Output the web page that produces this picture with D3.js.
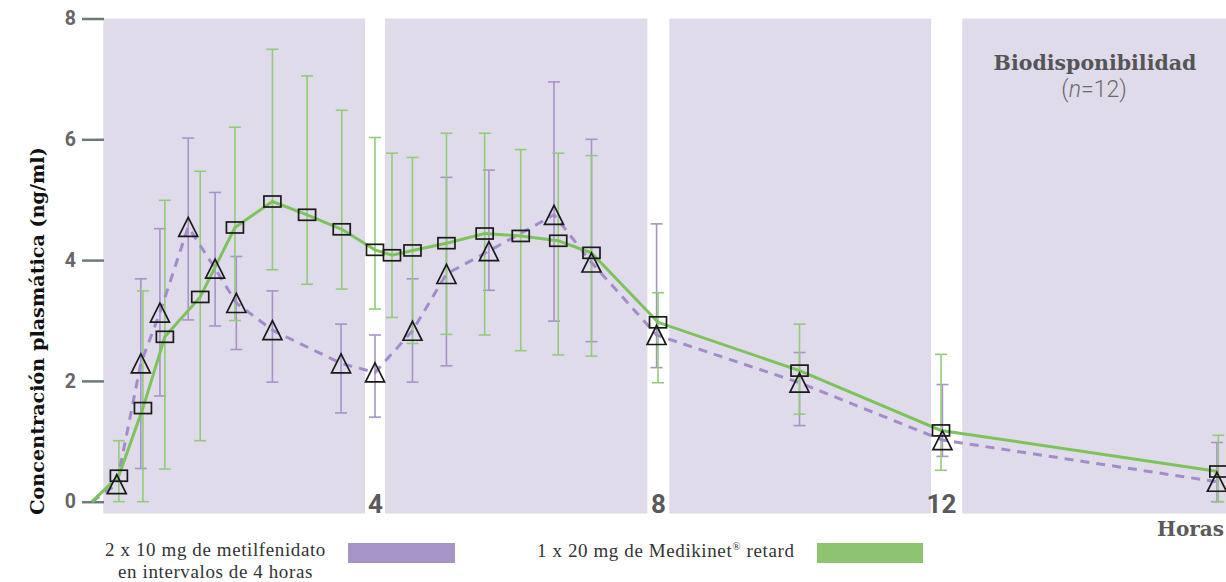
<!DOCTYPE html>
<html>
<head>
<meta charset="utf-8">
<script src="https://cdn.jsdelivr.net/npm/d3@7"></script>
<style>
  html, body { margin: 0; padding: 0; background: #ffffff; }
  svg { display: block; }
</style>
</head>
<body>
<script>
// Plasma concentration (ng/ml) of methylphenidate over time (hours)

// Series A: 2 x 10 mg methylphenidate, 4 hours apart (triangles, dashed)
const hoursA = [0, 0.35, 0.69, 0.96, 1.36, 1.74, 2.04, 2.55, 3.52, 4.0, 4.53, 5.01, 5.61, 6.53, 7.06, 7.98, 10.0, 12.02, 15.9];
const meanA  = [0, 0.29, 2.29, 3.13, 4.55, 3.86, 3.29, 2.84, 2.29, 2.14, 2.83, 3.77, 4.15, 4.75, 3.96, 2.76, 1.97, 1.02, 0.33];
const lowA   = [null, null, 0.55, 1.75, 3.01, 2.91, 2.52, 1.98, 1.47, 1.40, 1.98, 2.25, 3.50, 2.99, 2.65, 2.22, 1.26, 0.75, 0.0];
const highA  = [null, null, 3.69, 4.52, 6.02, 5.12, 4.06, 3.49, 2.94, 2.76, 3.69, 5.37, 5.49, 6.95, 6.00, 4.60, 2.47, 1.94, 0.98];

// Series B: 1 x 20 mg Medikinet retard (squares, solid)
const hoursB = [0, 0.38, 0.72, 1.03, 1.53, 2.02, 2.55, 3.04, 3.53, 4.0, 4.24, 4.53, 5.01, 5.55, 6.06, 6.59, 7.06, 8.0, 10.0, 12.0, 15.92];
const meanB  = [0, 0.43, 1.55, 2.73, 3.39, 4.54, 4.97, 4.75, 4.51, 4.17, 4.08, 4.16, 4.28, 4.44, 4.40, 4.32, 4.12, 2.97, 2.17, 1.18, 0.50];
const lowB   = [null, 0.0, 0.0, 0.54, 1.01, 3.00, 3.84, 3.60, 3.52, 3.19, 3.05, 2.62, 2.77, 2.76, 2.50, 2.43, 2.41, 1.97, 1.45, 0.52, 0.0];
const highB  = [null, 1.01, 3.49, 4.99, 5.47, 6.20, 7.49, 7.05, 6.48, 6.03, 5.77, 5.70, 6.10, 6.10, 5.83, 5.77, 5.73, 3.46, 2.94, 2.44, 1.10];

// Shaded 4-hour intervals (hours)
const bandFrom = [0.16, 4.14, 8.16, 12.30];
const bandTo   = [3.86, 7.85, 11.86, 16.10];

// Axis ticks
const yTicks = [0, 2, 4, 6, 8];
const xTicks = [4, 8, 12];

// Text
const yTitle = "Concentración plasmática (ng/ml)";
const xTitle = "Horas";
const studyTitle = "Biodisponibilidad";
const legendA = ["2 x 10 mg de metilfenidato", "en intervalos de 4 horas"];
const legendB = "1 x 20 mg de Medikinet";

const W = 1226, H = 582;
const COL = {
  band: "#e0dbea",
  greenLine: "#7dc35b",
  greenBar: "#93cc78",
  purpleLine: "#a48ccb",
  purpleBar: "#a893c9",
  legendPurple: "#a694c6",
  legendGreen: "#8ec46f",
  tick: "#6b7c74",
  tickText: "#666666",
  marker: "#1a1a1a"
};

const x = d3.scaleLinear().domain([0, 16]).range([92, 1224]);
const y = d3.scaleLinear().domain([0, 8]).range([501.7, 18.5]);
const plotBottom = 513.5;

const svg = d3.select("body").append("svg")
  .attr("width", W).attr("height", H)
  .attr("viewBox", `0 0 ${W} ${H}`);

// Shaded intervals
svg.append("g").selectAll("rect")
  .data(bandFrom.map((f, i) => ({ from: f, to: bandTo[i] })))
  .join("rect")
  .attr("x", d => x(d.from))
  .attr("width", d => x(d.to) - x(d.from))
  .attr("y", y(8))
  .attr("height", plotBottom - y(8))
  .attr("fill", COL.band);

// Y axis
const yAxisG = svg.append("g")
  .attr("transform", "translate(104,0)")
  .call(d3.axisLeft(y).tickValues(yTicks).tickSize(22).tickPadding(6).tickFormat(d3.format("d")));
yAxisG.select(".domain").remove();
yAxisG.selectAll(".tick line").attr("stroke", COL.tick).attr("stroke-width", 2.5);
yAxisG.selectAll(".tick text")
  .attr("fill", COL.tickText)
  .style("font-family", "Roboto, 'Open Sans', sans-serif")
  .style("font-weight", 700)
  .style("font-size", "19.5px");

// X axis labels (hour marks)
const xAxisG = svg.append("g")
  .attr("transform", `translate(0,${plotBottom})`)
  .call(d3.axisBottom(x).tickValues(xTicks).tickSize(0).tickPadding(0).tickFormat(d3.format("d")));
xAxisG.select(".domain").remove();
xAxisG.selectAll(".tick text")
  .attr("y", -1).attr("dy", 0)
  .attr("fill", "#5a5a5a")
  .style("font-family", "Roboto, 'Open Sans', sans-serif")
  .style("font-weight", 700)
  .style("font-size", "26px");

// Build series records
function records(hours, mean, low, high) {
  return hours.map((h, i) => ({ h, v: mean[i], lo: low[i], hi: high[i], marker: i > 0 }));
}
const seriesA = records(hoursA, meanA, lowA, highA);
const seriesB = records(hoursB, meanB, lowB, highB);

// Error bars
function errorBars(data, color) {
  const g = svg.append("g").attr("stroke", color).attr("stroke-width", 1.6).attr("fill", "none");
  const withBars = data.filter(d => d.lo !== null && d.hi !== null);
  g.selectAll("line.stem").data(withBars).join("line")
    .attr("class", "stem")
    .attr("x1", d => x(d.h)).attr("x2", d => x(d.h))
    .attr("y1", d => y(d.hi)).attr("y2", d => y(d.lo));
  g.selectAll("line.capTop").data(withBars).join("line")
    .attr("class", "capTop")
    .attr("x1", d => x(d.h) - 6).attr("x2", d => x(d.h) + 6)
    .attr("y1", d => y(d.hi)).attr("y2", d => y(d.hi));
  g.selectAll("line.capBot").data(withBars).join("line")
    .attr("class", "capBot")
    .attr("x1", d => x(d.h) - 6).attr("x2", d => x(d.h) + 6)
    .attr("y1", d => y(d.lo)).attr("y2", d => y(d.lo));
}
errorBars(seriesA, COL.purpleBar);
errorBars(seriesB, COL.greenBar);

// Mean curves
const line = d3.line().x(d => x(d.h)).y(d => y(d.v));
svg.append("path").datum(seriesA)
  .attr("d", line)
  .attr("fill", "none")
  .attr("stroke", COL.purpleLine)
  .attr("stroke-width", 3)
  .attr("stroke-dasharray", "9,7");
svg.append("path").datum(seriesB)
  .attr("d", line)
  .attr("fill", "none")
  .attr("stroke", COL.greenLine)
  .attr("stroke-width", 3);

// Markers: triangles for series A, rectangles for series B
const tri = 9.5;
svg.append("g").selectAll("path")
  .data(seriesA.filter(d => d.marker))
  .join("path")
  .attr("d", d => {
    const cx = x(d.h), cy = y(d.v);
    return `M${cx},${cy - tri}L${cx + tri},${cy + tri}L${cx - tri},${cy + tri}Z`;
  })
  .attr("fill", "none")
  .attr("stroke", COL.marker)
  .attr("stroke-width", 1.7)
  .attr("stroke-linejoin", "miter");

svg.append("g").selectAll("rect")
  .data(seriesB.filter(d => d.marker))
  .join("rect")
  .attr("x", d => x(d.h) - 8.5)
  .attr("y", d => y(d.v) - 5.5)
  .attr("width", 17)
  .attr("height", 11)
  .attr("fill", "none")
  .attr("stroke", COL.marker)
  .attr("stroke-width", 1.7);

// Y axis title
svg.append("text")
  .attr("transform", "translate(44,331) rotate(-90)")
  .attr("text-anchor", "middle")
  .attr("fill", "#111")
  .style("font-family", "'DejaVu Serif', serif")
  .style("font-weight", 700)
  .style("font-size", "19.2px")
  .text(yTitle);

// X axis title
svg.append("text")
  .attr("x", 1224).attr("y", 536)
  .attr("text-anchor", "end")
  .attr("fill", "#5a5a5a")
  .style("font-family", "'DejaVu Serif', serif")
  .style("font-weight", 700)
  .style("font-size", "20px")
  .text(xTitle);

// Study label
svg.append("text")
  .attr("x", 1095).attr("y", 70)
  .attr("text-anchor", "middle")
  .attr("fill", "#555")
  .style("font-family", "'DejaVu Serif', serif")
  .style("font-weight", 700)
  .style("font-size", "20.5px")
  .text(studyTitle);

const nLabel = svg.append("text")
  .attr("x", 1094).attr("y", 97)
  .attr("text-anchor", "middle")
  .attr("fill", "#6a6a6a")
  .style("font-family", "Roboto, sans-serif")
  .style("font-weight", 300)
  .style("font-size", "23px");
nLabel.append("tspan").text("(");
nLabel.append("tspan").style("font-style", "italic").text("n");
nLabel.append("tspan").text("=12)");

// Legend
const legendFont = "'Liberation Serif', 'Times New Roman', serif";
const legA = svg.append("text")
  .attr("text-anchor", "middle")
  .attr("fill", "#333")
  .style("font-family", legendFont)
  .style("font-size", "19px")
  .style("letter-spacing", "0.6px");
legendA.forEach((t, i) => {
  legA.append("tspan").attr("x", 215.5).attr("y", 555.5 + i * 22).text(t);
});
svg.append("rect")
  .attr("x", 348).attr("y", 543).attr("width", 107).attr("height", 20)
  .attr("fill", COL.legendPurple);

const legB = svg.append("text")
  .attr("x", 537).attr("y", 556.5)
  .attr("fill", "#333")
  .style("font-family", legendFont)
  .style("font-size", "19px")
  .style("letter-spacing", "0.6px");
legB.append("tspan").text(legendB);
legB.append("tspan").attr("dy", -7).style("font-size", "11px").text("®");
legB.append("tspan").attr("dy", 7).text(" retard");
svg.append("rect")
  .attr("x", 817).attr("y", 543).attr("width", 106).attr("height", 20)
  .attr("fill", COL.legendGreen);
</script>
</body>
</html>
